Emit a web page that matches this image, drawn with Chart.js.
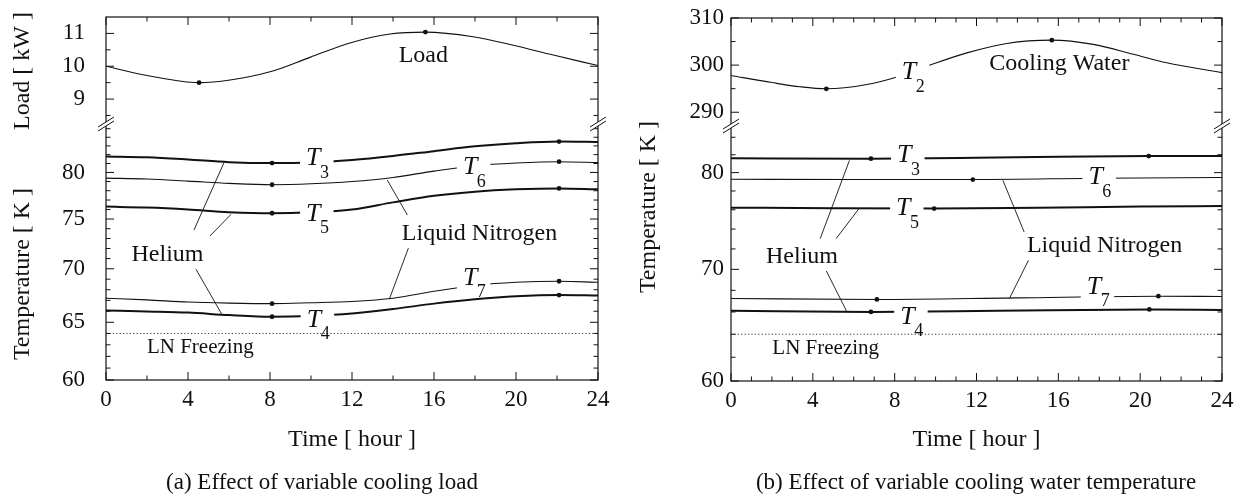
<!DOCTYPE html>
<html>
<head>
<meta charset="utf-8">
<script src="https://cdn.jsdelivr.net/npm/chart.js@4.4.1/dist/chart.umd.min.js"></script>
<style>
  body { margin: 0; background: #fff; width: 1245px; height: 498px; position: relative; overflow: hidden;
         font-family: "Liberation Serif", "Times New Roman", serif; color: #111; }
  canvas { position: absolute; top: 0; }
  #chartA { left: 0; }
  #chartB { left: 622px; }
  .cap { position: absolute; top: 469px; font-size: 23px; line-height: 26px; white-space: nowrap; transform: translateX(-50%); }
</style>
</head>
<body>
<canvas id="chartA" width="620" height="498"></canvas>
<canvas id="chartB" width="623" height="498"></canvas>
<div class="cap" style="left:322px">(a) Effect of variable cooling load</div>
<div class="cap" style="left:976px">(b) Effect of variable cooling water temperature</div>
<script>
const ink = '#111';

// ---- axis ticks / labels ----
const xTicksA = [0, 2, 4, 6, 8, 10, 12, 14, 16, 18, 20, 22, 24];
const xTicksB = [0, 1, 2, 3, 4, 5, 6, 7, 8, 9, 10, 11, 12, 13, 14, 15, 16, 17, 18, 19, 20, 21, 22, 23, 24];
const xLabels = [0, 4, 8, 12, 16, 20, 24];
const loadTicks = [8.5, 9, 9.5, 10, 10.5, 11];
const loadLabels = [9, 10, 11];
const waterTicks = [290, 295, 300, 305, 310];
const waterLabels = [290, 300, 310];
const tempTicksA = [60, 61, 62, 63, 64, 65, 66, 67, 68, 69, 70, 71, 72, 73, 74, 75, 76, 77, 78, 79, 80, 81, 82, 83, 84, 85];
const tempLabelsA = [60, 65, 70, 75, 80];
const tempTicksB = [60, 62, 64, 66, 68, 70, 72, 74, 76, 78, 80, 82, 84];
const tempLabelsB = [60, 70, 80];

// ---- panel (a): variable cooling load ----
const loadTime = [0, 2, 4.54, 6.05, 8, 9.95, 11.9, 13.85, 15.58, 17.9, 19.87, 21.82, 24];
const loadKW   = [10.0, 9.72, 9.5, 9.58, 9.83, 10.27, 10.71, 10.98, 11.04, 10.9, 10.64, 10.34, 10.02];
const loadDots = [2, 8];

const timeA = [0, 2, 4, 6, 8.1, 10, 12, 14, 16, 18, 20, 22.1, 24];
const dotsA = [4, 11];
const T3a = [81.8, 81.7, 81.45, 81.15, 81.05, 81.12, 81.4, 81.85, 82.4, 82.95, 83.3, 83.5, 83.45];
const T6a = [79.37, 79.28, 79.05, 78.8, 78.65, 78.75, 79.0, 79.45, 80.15, 80.75, 81.05, 81.2, 81.1];
const T5a = [76.3, 76.2, 76.0, 75.72, 75.6, 75.7, 76.0, 76.75, 77.45, 77.9, 78.15, 78.25, 78.15];
const T7a = [67.2, 67.05, 66.85, 66.75, 66.7, 66.78, 66.9, 67.2, 67.85, 68.4, 68.7, 68.8, 68.7];
const T4a = [66.06, 65.98, 65.88, 65.65, 65.5, 65.58, 65.8, 66.2, 66.7, 67.1, 67.38, 67.5, 67.45];

// ---- panel (b): variable cooling water temperature ----
const waterTime = [0, 2, 3.39, 4.66, 6.64, 8.11, 9.65, 11.53, 13.48, 15.68, 17.71, 19.67, 21.3, 24];
const T2b       = [297.8, 296.3, 295.4, 294.98, 295.9, 297.5, 299.9, 302.6, 304.6, 305.3, 304.4, 302.3, 300.5, 298.4];
const waterDots = [3, 9];

const t3bTime = [0, 6.84, 12, 16, 20.42, 24];
const T3b     = [81.6, 81.55, 81.65, 81.78, 81.85, 81.85];
const t6bTime = [0, 6, 11.82, 18, 24];
const T6b     = [79.27, 79.24, 79.24, 79.38, 79.47];
const t5bTime = [0, 5, 9.93, 15, 20, 24];
const T5b     = [76.22, 76.16, 76.13, 76.22, 76.34, 76.4];
const t7bTime = [0, 7.13, 14, 20.89, 24];
const T7b     = [67.24, 67.15, 67.3, 67.45, 67.42];
const t4bTime = [0, 6.84, 13, 20.45, 24];
const T4b     = [66.1, 66.0, 66.1, 66.23, 66.18];

const lnFreezing = 64.0;

// leader lines: [t0, v0, t1, v1]
const leadersA = [[4.29, 73.86, 5.76, 81.12], [5.07, 73.25, 6.10, 75.49], [4.39, 69.96, 5.64, 65.75],
                  [14.70, 75.42, 13.72, 79.16], [14.75, 72.03, 13.82, 67.11]];
const leadersB = [[4.36, 73.03, 5.79, 81.36], [5.14, 73.03, 6.28, 76.19], [4.66, 69.84, 5.67, 66.0],
                  [14.33, 73.7, 13.29, 79.15], [14.54, 70.88, 13.61, 67.24]];

Chart.defaults.font.family = '"Liberation Serif", "Times New Roman", serif';
Chart.defaults.color = ink;

function curve(t, v, dots, axis, w) {
  return {
    data: t.map((x, i) => ({ x: x, y: v[i] })),
    yAxisID: axis,
    borderColor: ink,
    borderWidth: w,
    pointRadius: t.map((_, i) => dots.includes(i) ? 2.4 : 0),
    pointBackgroundColor: ink,
    pointBorderWidth: 0,
    cubicInterpolationMode: 'monotone'
  };
}

function leader(l) {
  return { data: [{ x: l[0], y: l[1] }, { x: l[2], y: l[3] }], yAxisID: 'yBot',
           borderColor: ink, borderWidth: 0.9, pointRadius: 0 };
}

function freezeLine() {
  return { data: [{ x: 0, y: lnFreezing }, { x: 24, y: lnFreezing }], yAxisID: 'yBot',
           borderColor: '#333', borderWidth: 1, borderDash: [1.2, 2.2], pointRadius: 0 };
}

const panelA = {
  name: 'A', top: 17, right: 22, yw: 106, xh: 118, yPad: 21,
  wTop: 108, wBot: 255, topMin: 8.21, topMax: 11.5, botMax: 85.44,
  xTicks: xTicksA, topTicks: loadTicks, topLabels: loadLabels, botTicks: tempTicksA, botLabels: tempLabelsA,
  datasets: [
    curve(loadTime, loadKW, loadDots, 'yTop', 1.1),
    curve(timeA, T3a, dotsA, 'yBot', 2),
    curve(timeA, T6a, dotsA, 'yBot', 1.1),
    curve(timeA, T5a, dotsA, 'yBot', 2),
    curve(timeA, T7a, dotsA, 'yBot', 1.1),
    curve(timeA, T4a, dotsA, 'yBot', 2),
    freezeLine()
  ].concat(leadersA.map(leader)),
  tags: [
    { sub: '3', t: 9.76, v: 80.82 }, { sub: '5', t: 9.76, v: 74.82 }, { sub: '4', t: 9.79, v: 64.6 },
    { sub: '6', t: 17.41, v: 79.82 }, { sub: '7', t: 17.41, v: 68.45 }
  ],
  words: [
    { text: 'Load', t: 15.48, v: 10.135, axis: 'yTop', size: 24 },
    { text: 'Helium', t: 3.0, v: 70.77, size: 24 },
    { text: 'Liquid Nitrogen', t: 18.22, v: 72.86, size: 24 },
    { text: 'LN Freezing', t: 4.6, v: 62.27, size: 21 }
  ],
  titles: [
    { text: 'Load [ kW ]', x: 23, y: 71 },
    { text: 'Temperature [ K ]', x: 23, y: 274 }
  ]
};

const panelB = {
  name: 'B', top: 18, right: 23, yw: 109, xh: 117, yPad: 7,
  wTop: 109, wBot: 254, topMin: 286.87, topMax: 310, botMax: 85.2,
  xTicks: xTicksB, topTicks: waterTicks, topLabels: waterLabels, botTicks: tempTicksB, botLabels: tempLabelsB,
  datasets: [
    curve(waterTime, T2b, waterDots, 'yTop', 1.1),
    curve(t3bTime, T3b, [1, 4], 'yBot', 2),
    curve(t6bTime, T6b, [2], 'yBot', 1.1),
    curve(t5bTime, T5b, [2], 'yBot', 2),
    curve(t7bTime, T7b, [1, 3], 'yBot', 1.1),
    curve(t4bTime, T4b, [1, 3], 'yBot', 2),
    freezeLine()
  ].concat(leadersB.map(leader)),
  tags: [
    { sub: '2', t: 8.35, v: 296.96, axis: 'yTop' },
    { sub: '3', t: 8.12, v: 81.17 }, { sub: '5', t: 8.07, v: 75.42 }, { sub: '4', t: 8.27, v: 64.95 },
    { sub: '6', t: 17.47, v: 78.72 }, { sub: '7', t: 17.39, v: 67.7 }
  ],
  words: [
    { text: 'Cooling Water', t: 16.05, v: 298.94, axis: 'yTop', size: 24 },
    { text: 'Helium', t: 3.47, v: 70.6, size: 24 },
    { text: 'Liquid Nitrogen', t: 18.26, v: 71.68, size: 24 },
    { text: 'LN Freezing', t: 4.63, v: 62.32, size: 21 }
  ],
  titles: [
    { text: 'Temperature [ K ]', x: 26.5, y: 207 }
  ]
};

const serif = '"Liberation Serif", "Times New Roman", serif';

function decor(p) {
  return {
    id: 'decor' + p.name,
    afterDatasetsDraw(chart) {
      const ctx = chart.ctx, xs = chart.scales.x;
      ctx.save();
      ctx.textBaseline = 'alphabetic';
      // T_n labels sitting in a gap of their line
      p.tags.forEach(tag => {
        const ys = chart.scales[tag.axis || 'yBot'];
        const x = xs.getPixelForValue(tag.t), y = ys.getPixelForValue(tag.v);
        ctx.font = 'italic 26px ' + serif;
        const wT = ctx.measureText('T').width;
        ctx.font = '18px ' + serif;
        const wS = ctx.measureText(tag.sub).width;
        ctx.fillStyle = '#fff';
        ctx.fillRect(x - 6, y - 18, wT + wS + 10, 23);
        ctx.fillStyle = ink;
        ctx.textAlign = 'left';
        ctx.font = 'italic 26px ' + serif;
        ctx.fillText('T', x, y);
        ctx.font = '18px ' + serif;
        ctx.fillText(tag.sub, x + wT - 0.5, y + 12.5);
      });
      p.words.forEach(w => {
        const ys = chart.scales[w.axis || 'yBot'];
        ctx.font = w.size + 'px ' + serif;
        ctx.textAlign = 'center';
        ctx.fillStyle = ink;
        ctx.fillText(w.text, xs.getPixelForValue(w.t), ys.getPixelForValue(w.v));
      });
      ctx.restore();
    },
    afterDraw(chart) {
      const ctx = chart.ctx, a = chart.chartArea, xs = chart.scales.x;
      ctx.save();
      ctx.strokeStyle = ink;
      ctx.lineWidth = 1.2;
      ctx.strokeRect(a.left, a.top, a.right - a.left, a.bottom - a.top);
      const seg = (x1, y1, x2, y2) => { ctx.beginPath(); ctx.moveTo(x1, y1); ctx.lineTo(x2, y2); ctx.stroke(); };
      ctx.lineWidth = 1;
      xs.ticks.forEach(tk => {
        const px = xs.getPixelForValue(tk.value);
        const len = tk.label ? 8 : 4.5;
        seg(px, a.bottom, px, a.bottom - len);
        seg(px, a.top, px, a.top + len);
      });
      ['yTop', 'yBot'].forEach(id => {
        const s = chart.scales[id];
        s.ticks.forEach(tk => {
          const py = s.getPixelForValue(tk.value);
          const len = tk.label ? 8 : 4.5;
          seg(a.left, py, a.left + len, py);
          seg(a.right, py, a.right - len, py);
        });
      });
      // axis break marks
      const yb = chart.scales.yTop.bottom;
      [a.left, a.right].forEach(x0 => {
        ctx.fillStyle = '#fff';
        ctx.beginPath();
        ctx.moveTo(x0 - 8, yb + 6); ctx.lineTo(x0 + 8, yb - 4);
        ctx.lineTo(x0 + 8, yb - 8); ctx.lineTo(x0 - 8, yb + 2);
        ctx.closePath(); ctx.fill();
        seg(x0 - 8, yb + 6, x0 + 8, yb - 4);
        seg(x0 - 8, yb + 2, x0 + 8, yb - 8);
      });
      // rotated y titles
      ctx.fillStyle = ink;
      ctx.font = '24px ' + serif;
      ctx.textAlign = 'center';
      ctx.textBaseline = 'middle';
      p.titles.forEach(tt => {
        ctx.save();
        ctx.translate(tt.x, tt.y);
        ctx.rotate(-Math.PI / 2);
        ctx.fillText(tt.text, 0, 0);
        ctx.restore();
      });
      ctx.restore();
    }
  };
}

function yAxis(p, top) {
  const ticks = top ? p.topTicks : p.botTicks;
  const labels = top ? p.topLabels : p.botLabels;
  return {
    type: top ? 'linear' : 'logarithmic',
    position: 'left',
    stack: 'panel',
    stackWeight: top ? p.wTop : p.wBot,
    weight: top ? 1 : 0,
    min: top ? p.topMin : 60,
    max: top ? p.topMax : p.botMax,
    afterFit: s => { s.width = p.yw; s.paddingTop = 0; s.paddingBottom = 0; },
    afterBuildTicks: s => { s.ticks = ticks.map(v => ({ value: v })); },
    grid: { display: false, drawTicks: false, tickLength: 0 },
    border: { display: false },
    ticks: { autoSkip: false, padding: p.yPad, color: ink, font: { size: 23 },
             callback: v => labels.includes(v) ? String(v) : '' }
  };
}

function makeChart(id, p) {
  return new Chart(document.getElementById(id), {
    type: 'line',
    data: { datasets: p.datasets },
    options: {
      responsive: false,
      animation: false,
      events: [],
      layout: { padding: { top: p.top, right: p.right, left: 0, bottom: 0 } },
      plugins: { legend: { display: false }, tooltip: { enabled: false } },
      scales: {
        x: {
          type: 'linear', min: 0, max: 24,
          afterFit: s => { s.height = p.xh; s.paddingLeft = 0; s.paddingRight = 0; },
          afterBuildTicks: s => { s.ticks = p.xTicks.map(v => ({ value: v })); },
          grid: { display: false, drawTicks: false, tickLength: 0 },
          border: { display: false },
          ticks: { autoSkip: false, maxRotation: 0, padding: 6, color: ink, font: { size: 23 },
                   callback: v => xLabels.includes(v) ? String(v) : '' },
          title: { display: true, text: 'Time [ hour ]', color: ink, font: { size: 24 },
                   padding: { top: 0, bottom: 44 } }
        },
        yTop: yAxis(p, true),
        yBot: yAxis(p, false)
      }
    },
    plugins: [decor(p)]
  });
}

makeChart('chartA', panelA);
makeChart('chartB', panelB);
</script>
</body>
</html>
